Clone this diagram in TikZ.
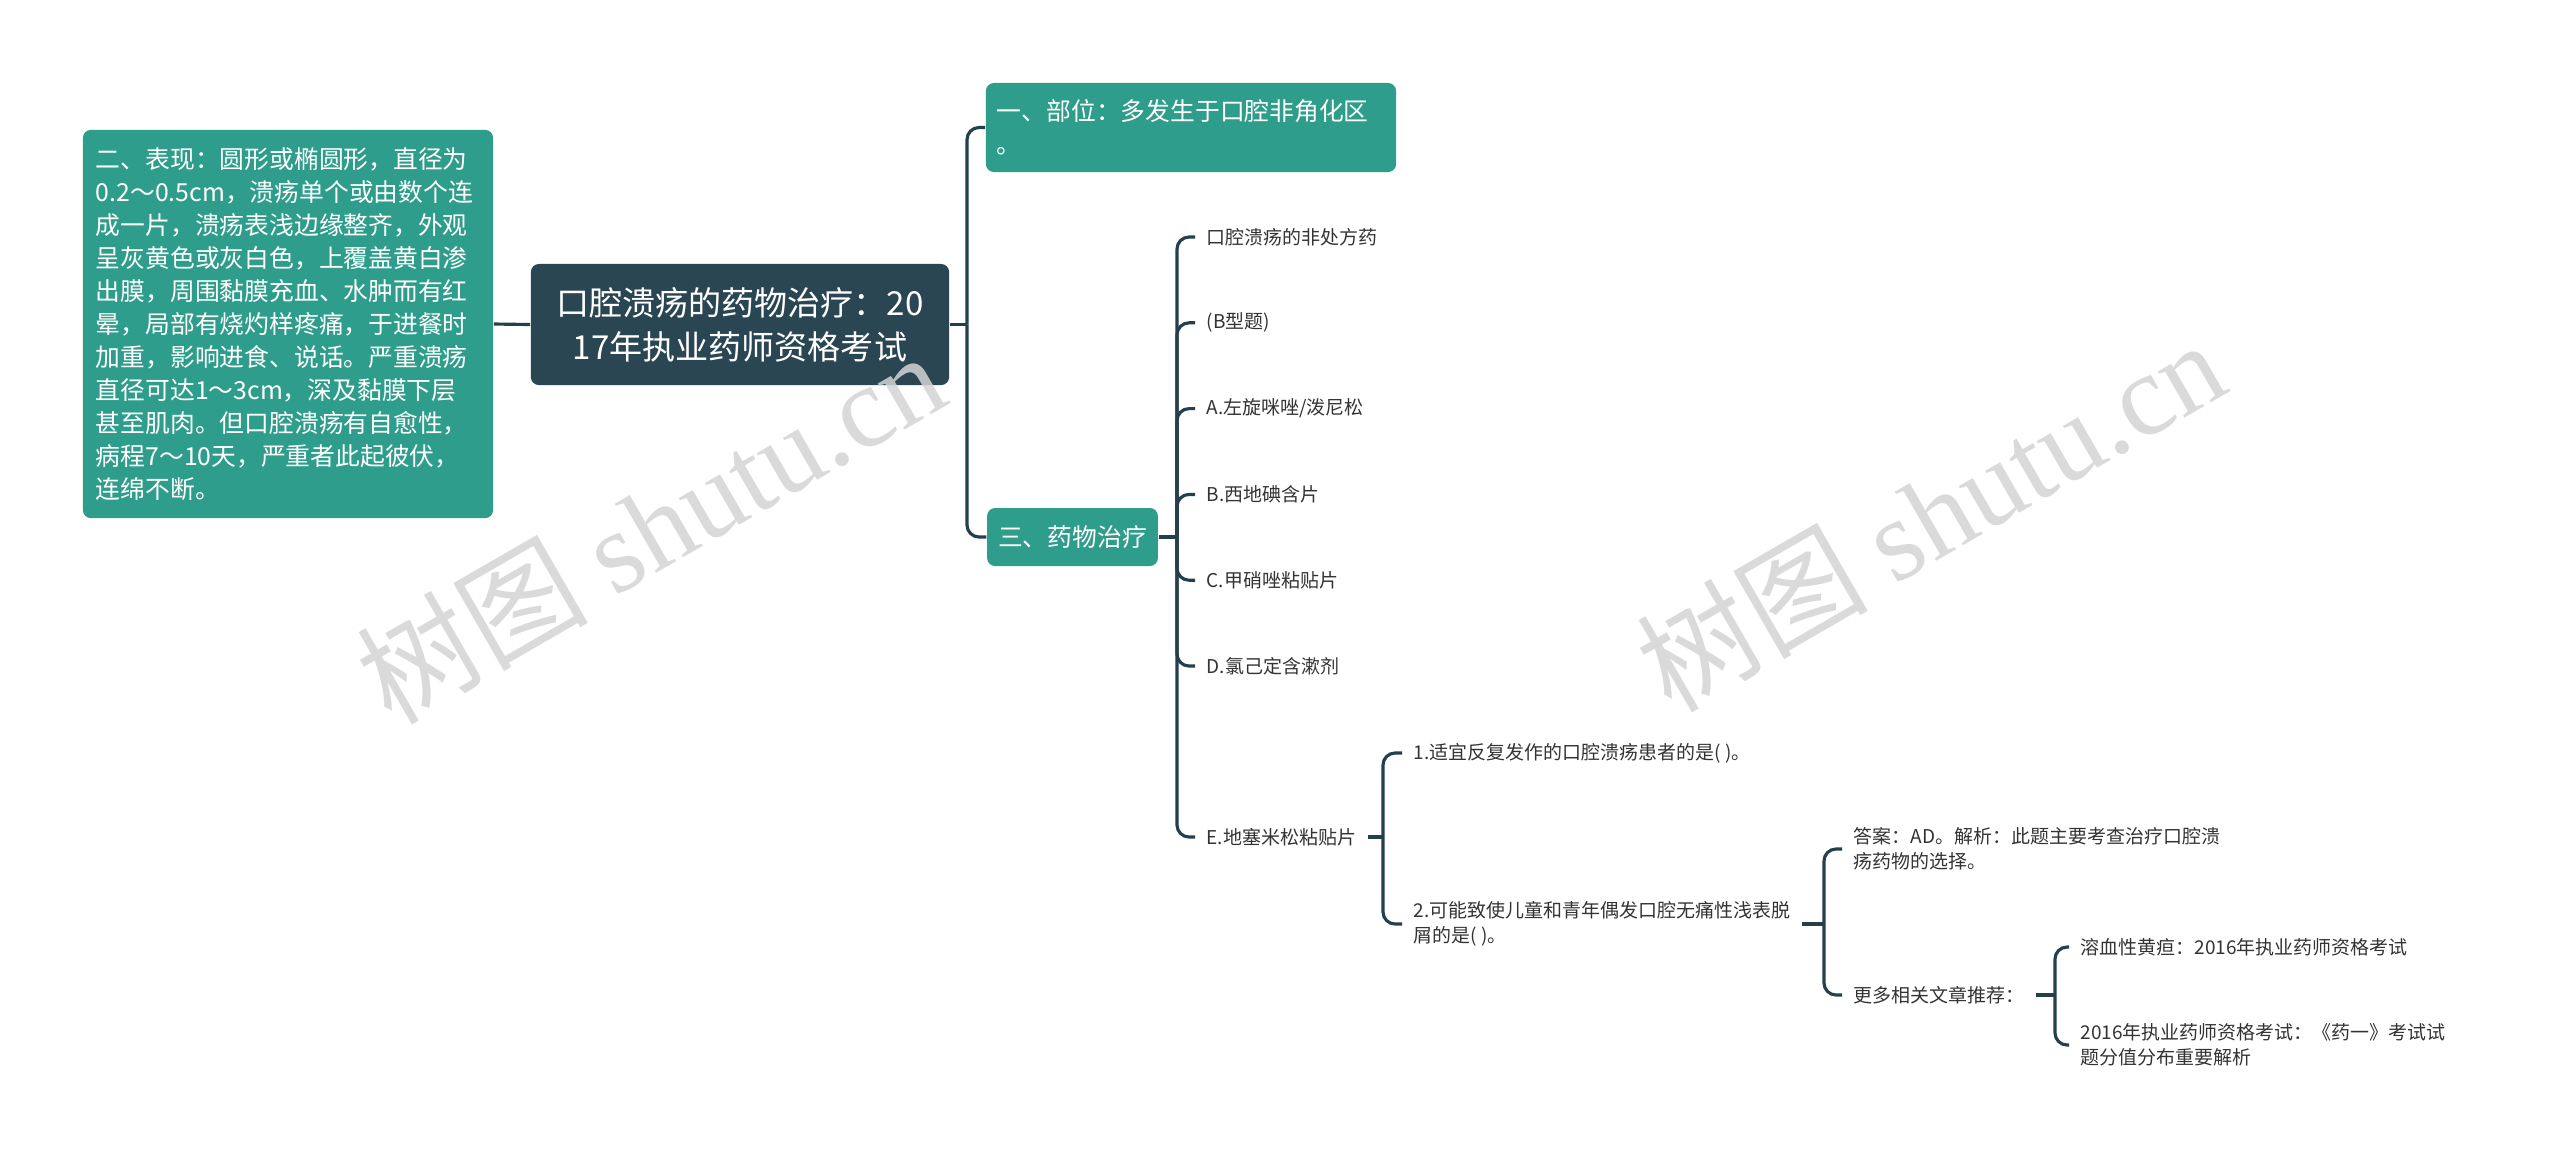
\documentclass[tikz,border=0pt]{standalone}
\usepackage{fontspec}
\setmainfont{Noto Sans CJK SC}
\newfontfamily\wmfont{Liberation Serif}

\definecolor{rootbg}{HTML}{2A4653}
\definecolor{topicbg}{HTML}{2E9D8B}
\definecolor{linkcol}{HTML}{24404C}
\definecolor{leaftxt}{HTML}{333333}
\definecolor{wmgray}{HTML}{D4D4D4}

\begin{document}
\begin{tikzpicture}[x=0.01cm, y=-0.01cm,
  rootbox/.style={fill=rootbg, text=white, rounded corners=0.08cm, align=center,
    font=\fontsize{9.4pt}{12.5pt}\selectfont, minimum width=4.18cm, minimum height=1.21cm, inner sep=0pt},
  topic/.style={fill=topicbg, text=white, rounded corners=0.08cm, align=left,
    font=\fontsize{7.05pt}{9.4pt}\selectfont, inner xsep=0.11cm, inner ysep=0.08cm},
  leaf/.style={anchor=west, text=leaftxt, align=left,
    font=\fontsize{5.4pt}{7.1pt}\selectfont, inner xsep=0.11cm, inner ysep=0.05cm},
  link/.style={draw=linkcol, line width=0.9pt, rounded corners=0.12cm},
  watermark/.style={text=wmgray, rotate=30, opacity=0.85, font=\fontsize{33pt}{33pt}\selectfont}]

  \useasboundingbox (0,0) rectangle (2560,1162);

  % === Root and the left description ===
  \node[rootbox] (root) at (740,324.5) {口腔溃疡的药物治疗：20\\17年执业药师资格考试};

  \node[topic, text width=3.84cm, inner xsep=0.13cm, minimum height=3.88cm] (desc) at (288,324)
    {二、表现：圆形或椭圆形，直径为\\
     0.2～0.5cm，溃疡单个或由数个连\\
     成一片，溃疡表浅边缘整齐，外观\\
     呈灰黄色或灰白色，上覆盖黄白渗\\
     出膜，周围黏膜充血、水肿而有红\\
     晕，局部有烧灼样疼痛，于进餐时\\
     加重，影响进食、说话。严重溃疡\\
     直径可达1～3cm，深及黏膜下层\\
     甚至肌肉。但口腔溃疡有自愈性，\\
     病程7～10天，严重者此起彼伏，\\
     连绵不断。};
  \draw[link] (desc.east) -- (root.west);

  % === Right side: the two topics ===
  \node[topic, text width=3.88cm, minimum height=0.89cm] (n1) at (1191,127.5)
    {一、部位：多发生于口腔非角化区\\。};
  \node[topic, minimum height=0.58cm] (n3) at (1072.5,537) {三、药物治疗};

  \coordinate (jr) at (967,324.5);
  \draw[link] (root.east) -- (jr);
  \foreach \c in {n1,n3}
    \draw[link] (jr) |- (\c.west);

  % === Drugs under topic three ===
  \coordinate (j3) at (1177,537);
  \draw[link] (n3.east) -- (j3);
  \foreach \t [count=\i] in {口腔溃疡的非处方药, {(B型题)}, A.左旋咪唑/泼尼松,
                             B.西地碘含片, C.甲硝唑粘贴片, D.氯己定含漱剂} {
    \node[leaf] (l\i) at (1195,{237+85.8*(\i-1)}) {\t};
    \draw[link] (j3) |- (l\i.west);
  }
  \node[leaf] (lE) at (1195,837) {E.地塞米松粘贴片};
  \draw[link] (j3) |- (lE.west);

  % === Questions ===
  \coordinate (jE) at (1383,837);
  \draw[link] (lE.east) -- (jE);
  \node[leaf] (q1) at (1402,753) {1.适宜反复发作的口腔溃疡患者的是( )。};
  \node[leaf] (q2) at (1402,924) {2.可能致使儿童和青年偶发口腔无痛性浅表脱\\屑的是( )。};
  \foreach \c in {q1,q2}
    \draw[link] (jE) |- (\c.west);

  \coordinate (jq) at (1824,924);
  \draw[link] (q2.east) -- (jq);
  \node[leaf] (ans) at (1842,849) {答案：AD。解析：此题主要考查治疗口腔溃\\疡药物的选择。};
  \node[leaf] (more) at (1842,995) {更多相关文章推荐：};
  \foreach \c in {ans,more}
    \draw[link] (jq) |- (\c.west);

  \coordinate (jm) at (2055,995);
  \draw[link] (more.east) -- (jm);
  \node[leaf] (h1) at (2069,947) {溶血性黄疸：2016年执业药师资格考试};
  \node[leaf] (h2) at (2069,1045) {2016年执业药师资格考试：《药一》考试试\\题分值分布重要解析};
  \foreach \c in {h1,h2}
    \draw[link] (jm) |- (\c.west);

  % watermarks
  \node[watermark] (wm1) at (650,526) {树图 {\wmfont shutu.cn}};
  \node[watermark] (wm2) at (1930,514) {树图 {\wmfont shutu.cn}};

\end{tikzpicture}
\end{document}
